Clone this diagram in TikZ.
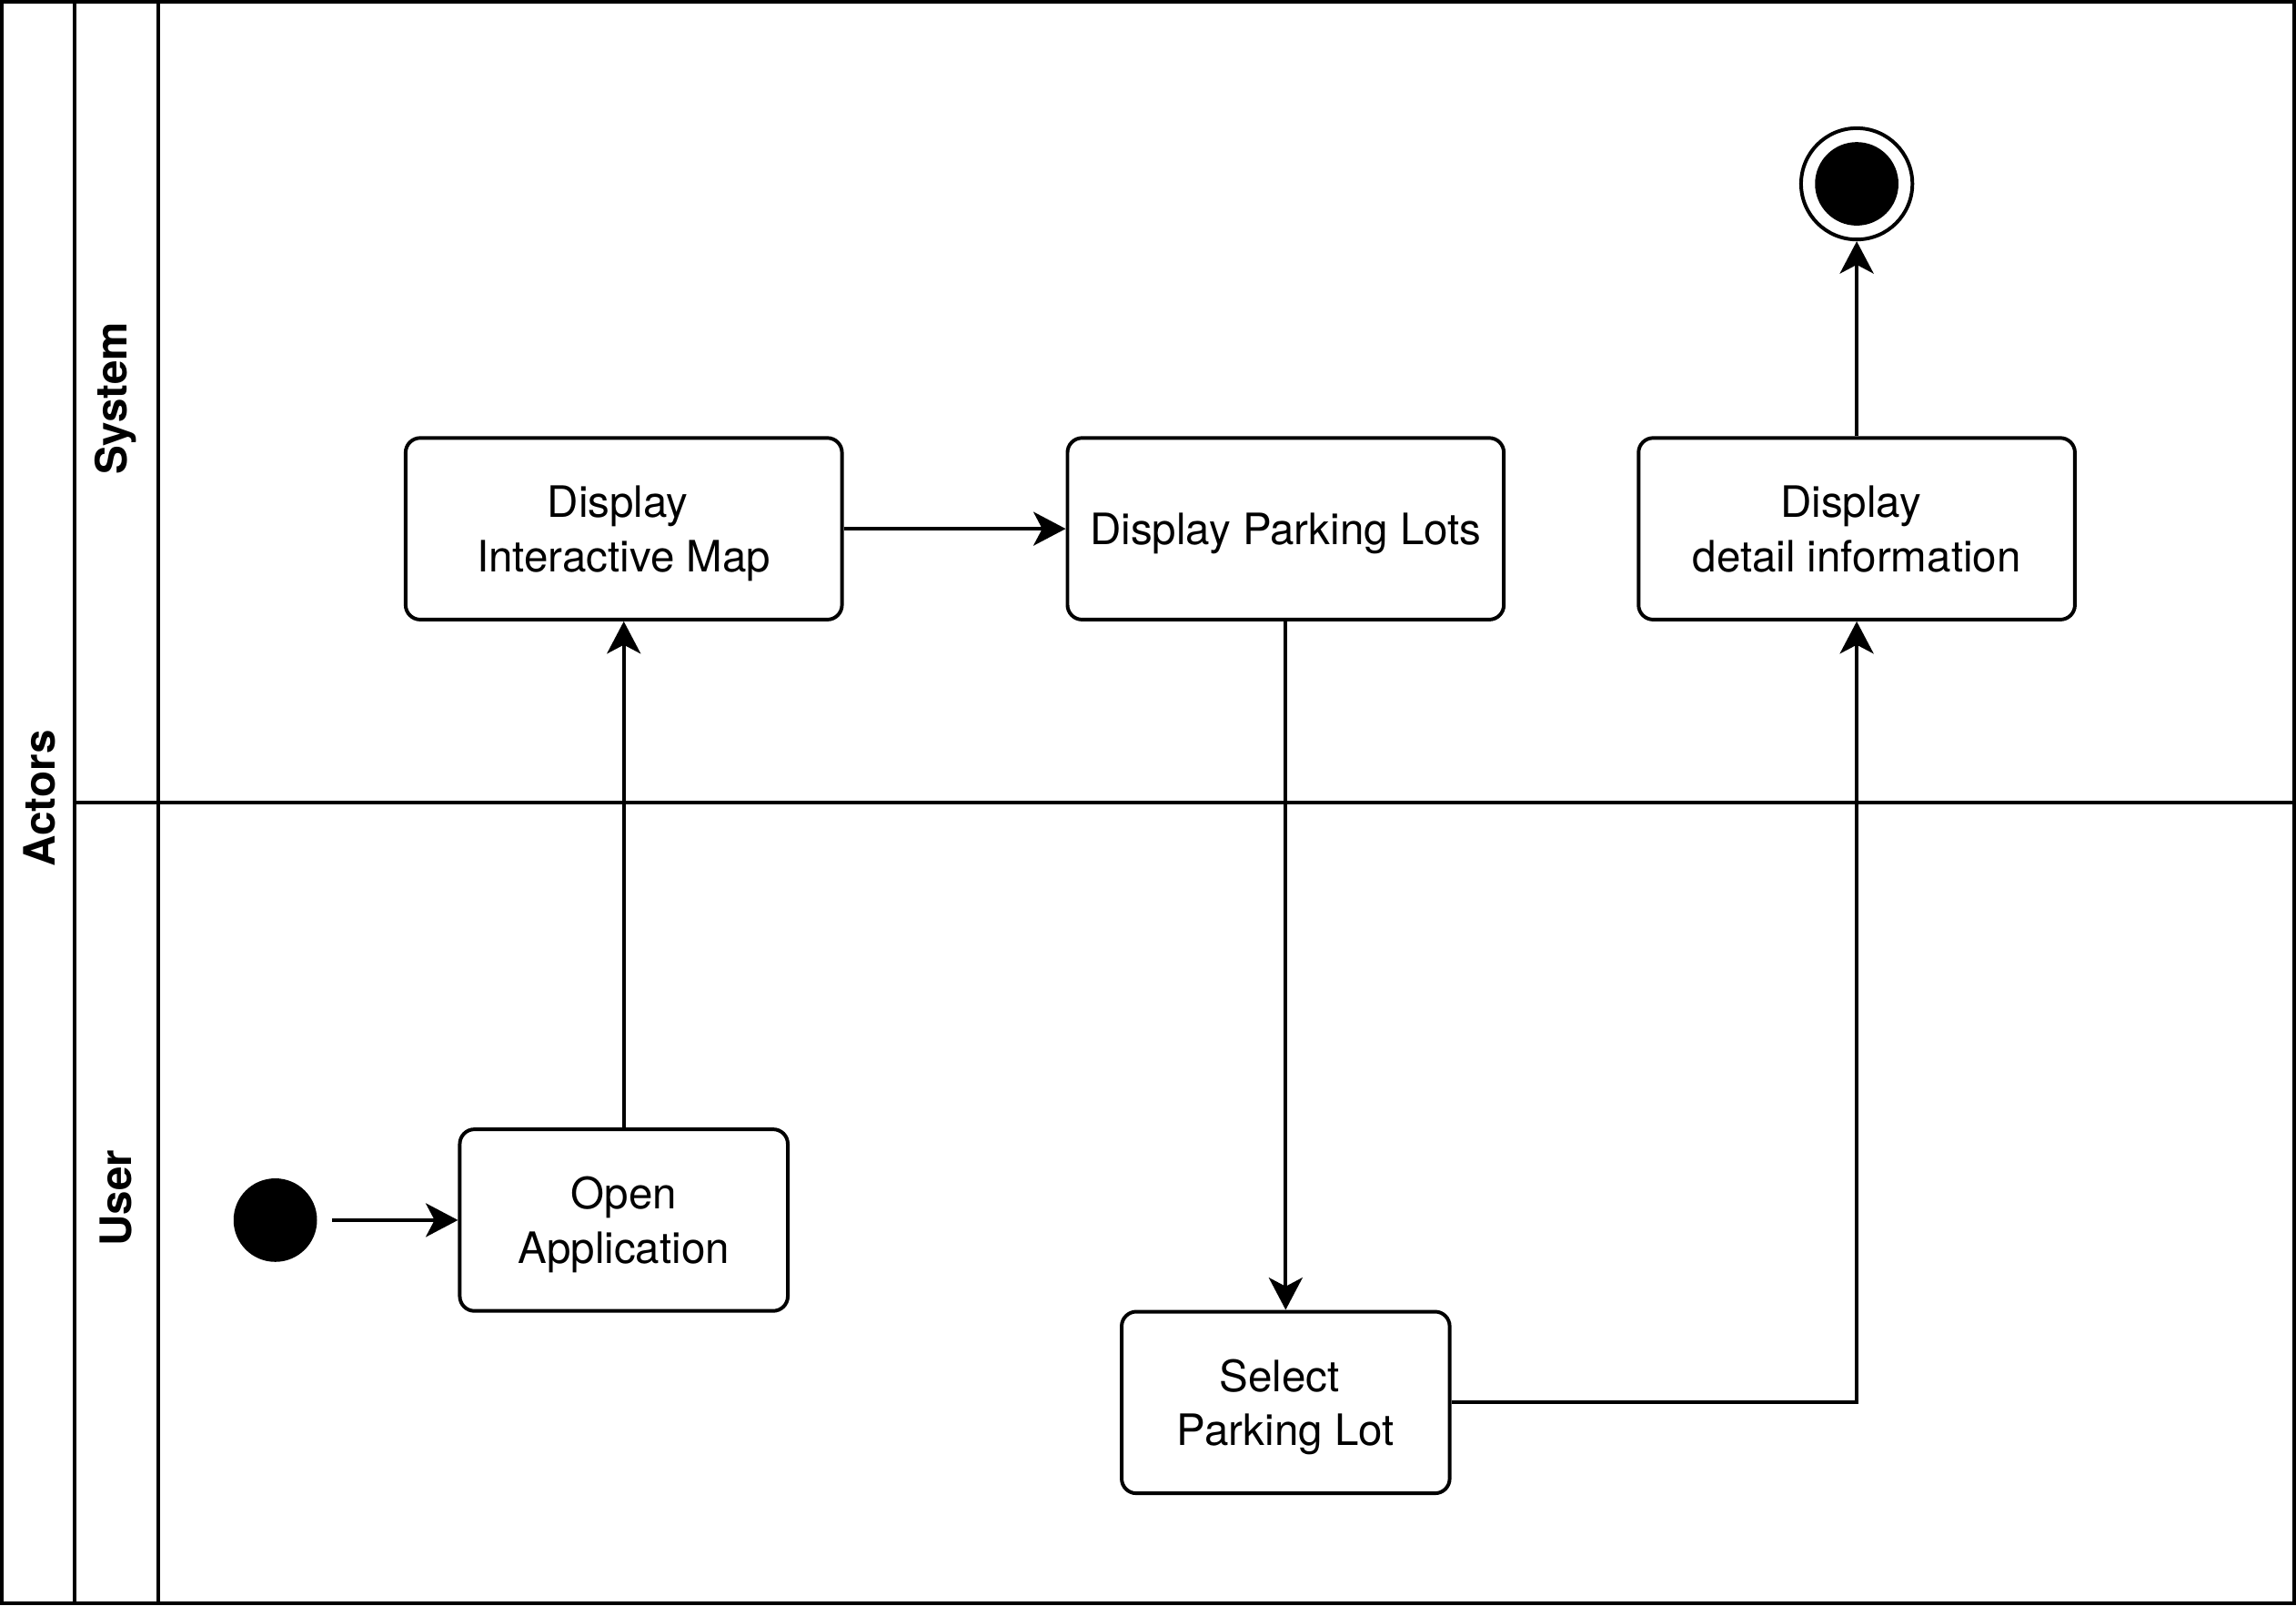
\documentclass[tikz,border=0pt]{standalone}
\usepackage{fontspec}
\setmainfont{TeX Gyre Heros}
\usetikzlibrary{arrows.meta, positioning}
\tikzset{
>={Stealth[length=2.2mm,width=2.3mm,inset=0.6mm]}, % arrow heads as in the drawing
every node/.style={font=\fontsize{8.4}{10.5}\selectfont},
action/.style={draw, rounded corners=1mm, minimum width=2.98cm, minimum height=1.24cm, align=center, inner sep=0pt, text depth=0pt},
smallaction/.style={action, minimum width=2.24cm},
initstate/.style={circle, fill=black, minimum size=5.7mm, inner sep=0pt},
finalout/.style={circle, draw, fill=white, minimum size=7.6mm, inner sep=0pt},
finalin/.style={circle, fill=black, minimum size=5.7mm, inner sep=0pt},
lanelabel/.style={rotate=90, font=\fontsize{8.4}{10.5}\selectfont\bfseries},
}

\begin{document}
\begin{tikzpicture}[line width=0.7pt]
  \useasboundingbox (0,0) rectangle (15.68,-10.96);
  % swimlane frame
  \draw (0.0125,-0.0125) rectangle (15.6675,-10.9475);
  \draw (0.51,0) -- (0.51,-10.96);
  \draw (1.08,0) -- (1.08,-10.96);
  \draw (0.51,-5.48) -- (15.68,-5.48);
  \node[lanelabel] (actors) at (0.27,-5.45) {Actors};
  \node[lanelabel] (system) at (0.79,-2.72) {System};
  \node[lanelabel] (user) at (0.79,-8.18) {User};

  % activities
  \node[initstate] (init) at (1.88,-8.33) {};
  \node[smallaction] (open) at (4.26,-8.33) {Open\\Application};
  \node[action] (map) at (4.26,-3.61) {Display\kern2.3pt\\Interactive Map};
  \node[action] (lots) at (8.78,-3.61) {Display Parking Lots};
  \node[smallaction] (select) at (8.78,-9.575) {Select\kern2.3pt\\Parking Lot};
  \node[action] (detail) at (12.68,-3.61) {Display\kern2.3pt\\detail information};
  \node[finalout] (final) at (12.68,-1.255) {};
  \node[finalin] (finaldot) at (final) {};

  \path[->]
  (init) edge[shorten <=0.9mm] (open)
  (open) edge (map)
  (map) edge (lots)
  (lots) edge (select)
  (detail) edge (final);
  \draw[->] (select.east) -| (detail.south);
\end{tikzpicture}
\end{document}
